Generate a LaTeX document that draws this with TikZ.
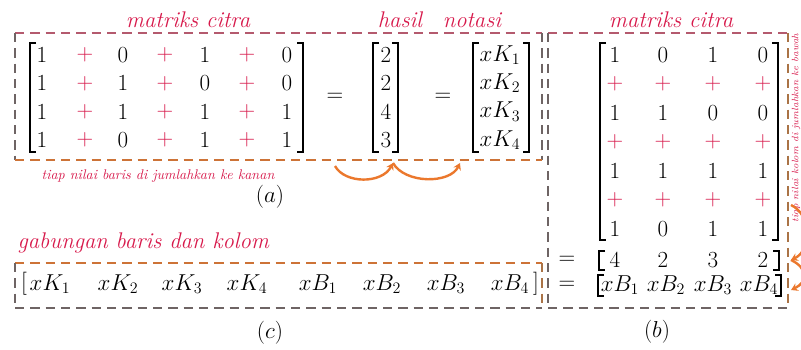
\documentclass[tikz,border=0pt]{standalone}
\usepackage{amsmath}
\usetikzlibrary{arrows.meta,positioning,calc}
\definecolor{merah}{RGB}{215,25,75}
\definecolor{oranye}{RGB}{235,120,45}
\definecolor{atas}{RGB}{180,90,110}
\definecolor{abu}{RGB}{110,100,100}
\definecolor{bawah}{RGB}{205,115,55}
\definecolor{cokelat}{RGB}{170,115,70}
% kurung siku: x kiri, y atas, y bawah, x kanan
\newcommand{\kurungsiku}[4]{%
  \draw[kurung] ({#1+6},#2) -- (#1,#2) -- (#1,#3) -- ({#1+6},#3);
  \draw[kurung] ({#4-6},#2) -- (#4,#2) -- (#4,#3) -- ({#4-6},#3);}

\begin{document}
\begin{tikzpicture}[x=0.75pt,y=-0.75pt,
    angka/.style={font=\fontsize{18.5}{22}\selectfont, inner sep=0pt},
    plus/.style={angka, text=merah},
    judul/.style={text=merah, font=\fontsize{17}{20}\selectfont\itshape},
    catatan/.style={text=merah, font=\fontsize{10.5}{12}\selectfont\itshape},
    garis/.style={dash pattern=on 7pt off 4.5pt, line width=1.3pt},
    kurung/.style={line width=1pt},
    lengkung/.style={draw=oranye, line width=1.8pt, -{Stealth[length=5pt,width=6pt]}}
]
\useasboundingbox (0,0) rectangle (801,350);
\clip (0,0) rectangle (801,350);

% kotak (a)
\draw[garis, draw=atas] (15,33) -- (542,33);
\draw[garis, draw=abu] (15,33) -- (15,160);
\draw[garis, draw=abu] (542,33) -- (542,160);
\draw[garis, draw=bawah] (15,160) -- (542,160);

% matriks citra, tiap baris dijumlah
\foreach \a/\b/\c/\d [count=\i] in {1/0/1/0, 1/1/0/0, 1/1/1/1, 1/0/1/1} {
    \node[angka] (a\i1) at (42,{26.7+28.3*\i}) {$\a$};
    \node[plus]  (p\i1) at (85,{26.7+28.3*\i}) {$+$};
    \node[angka] (a\i2) at (123,{26.7+28.3*\i}) {$\b$};
    \node[plus]  (p\i2) at (165,{26.7+28.3*\i}) {$+$};
    \node[angka] (a\i3) at (205,{26.7+28.3*\i}) {$\c$};
    \node[plus]  (p\i3) at (247,{26.7+28.3*\i}) {$+$};
    \node[angka] (a\i4) at (287,{26.7+28.3*\i}) {$\d$};
}
\kurungsiku{30}{43}{152}{303}

\node[angka] (eq1) at (335,97) {$=$};
\foreach \v [count=\i] in {2,2,4,3}
    \node[angka] (h\i) at (386,{26.7+28.3*\i}) {$\v$};
\kurungsiku{373}{43}{152}{398}

\node[angka] (eq2) at (443,97) {$=$};
\foreach \i in {1,...,4}
    \node[angka] (k\i) at (500,{26.7+28.3*\i}) {$xK_{\i}$};
\kurungsiku{473}{43}{152}{529}

\node[judul] (lblA) at (188,20) {matriks citra};
\node[judul] (lblH) at (400,20) {hasil};
\node[judul] (lblN) at (472,20) {notasi};
\node[catatan] (ketA) at (158,176) {tiap nilai baris di jumlahkan ke kanan};
\node[angka] (capA) at (270,197) {$(a)$};

% panah hasil -> notasi
\coordinate (u1) at (335,166);
\coordinate (u2) at (393,163);
\coordinate (u3) at (460,163);
\draw[lengkung] (u1) .. controls (345,184) and (382,184) .. (u2);
\draw[lengkung] (u2) .. controls (405,184) and (450,184) .. (u3);

% kotak (c)
\node[judul, anchor=west] (lblC) at (13,243) {gabungan baris dan kolom};
\draw[garis, draw=bawah] (15,263) -- (542,263);
\draw[garis, draw=abu] (15,263) -- (15,308);
\draw[garis, draw=cokelat] (542,263) -- (542,308);
\draw[garis, draw=abu] (15,308) -- (542,308);

\node[angka] (c0) at (24,284) {$[$};
\foreach \t/\x [count=\i] in {K_1/50, K_2/118, K_3/182, K_4/247, B_1/318, B_2/382, B_3/446, B_4/510}
    \node[angka] (c\i) at (\x,284) {$x\t$};
\node[angka] (c9) at (536,284) {$]$};
\node[angka] (capC) at (270,333) {$(c)$};

% kotak (b)
\draw[garis, draw=atas] (548,33) -- (788,33);
\draw[garis, draw=abu] (548,33) -- (548,308);
\draw[garis, draw=cokelat] (788,33) -- (788,308);
\draw[garis, draw=abu] (548,308) -- (788,308);

% matriks citra, tiap kolom dijumlah
\foreach \a/\b/\c/\d [count=\i] in {1/0/1/0, 1/1/0/0, 1/1/1/1, 1/0/1/1} {
    \node[angka] (b\i1) at (615,{-3+58*\i}) {$\a$};
    \node[angka] (b\i2) at (663,{-3+58*\i}) {$\b$};
    \node[angka] (b\i3) at (713,{-3+58*\i}) {$\c$};
    \node[angka] (b\i4) at (763,{-3+58*\i}) {$\d$};
}
\foreach \i in {1,2,3}
    \foreach \x in {615,663,713,763}
        \node[plus] (q\i\x) at (\x,{26+58*\i}) {$+$};
\kurungsiku{600}{43}{240}{778}

\node[angka] (eq3) at (567,260) {$=$};
\foreach \v/\x [count=\i] in {4/615, 2/663, 3/713, 2/763}
    \node[angka] (s\i) at (\x,260) {$\v$};
\kurungsiku{599}{251}{270}{779}

\node[angka] (eq4) at (567,285) {$=$};
\foreach \x [count=\i] in {620,666,713,759}
    \node[angka] (n\i) at (\x,285) {$xB_{\i}$};
\kurungsiku{598}{275}{296}{781}

\node[judul] (lblB) at (671,20) {matriks citra};
\node[catatan, font=\fontsize{7}{8}\selectfont\itshape, rotate=90] (ketB) at (796,128) {tiap nilai kolom di jumlahkan ke bawah};
\node[angka] (capB) at (657,332) {$(b)$};

% panah kolom -> jumlah
\coordinate (r1) at (791,205);
\coordinate (r2) at (791,260);
\coordinate (r3) at (791,290);
\draw[lengkung] (r1) .. controls (812,215) and (812,250) .. (r2);
\draw[lengkung] (r2) .. controls (808,268) and (808,282) .. (r3);
\end{tikzpicture}
\end{document}
